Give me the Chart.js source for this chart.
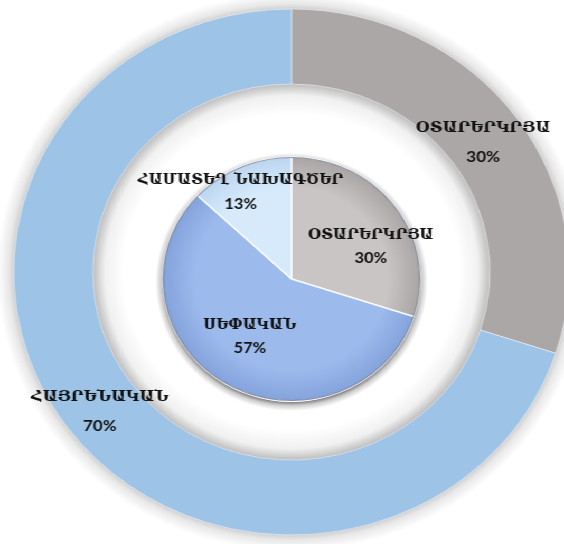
<!DOCTYPE html>
<html>
<head>
<meta charset="utf-8">
<script src="https://cdn.jsdelivr.net/npm/chart.js@4"></script>
<style>
  html, body { margin: 0; padding: 0; background: #fff; }
  #wrap { position: relative; width: 534px; height: 544px; transform: scaleX(1.0562); transform-origin: 0 0; }
  #wrap canvas { position: absolute; left: 0; top: 0; width: 534px; height: 544px; }
</style>
</head>
<body>
<div id="wrap">
  <canvas id="ring" width="534" height="544" style="width:534px;height:544px"></canvas>
  <canvas id="pie" width="534" height="544" style="width:534px;height:544px"></canvas>
</div>
<script>
// DATOS

// anillo exterior
const ringLabels = ['ՕՏԱՐԵՐԿՐՅԱ', 'ՀԱՅՐԵՆԱԿԱՆ'];
const ringValues = [30, 70];

// pastel interior
const pieLabels = ['ՕՏԱՐԵՐԿՐՅԱ', 'ՍԵՓԱԿԱՆ', 'ՀԱՄԱՏԵՂ ՆԱԽԱԳԾԵՐ'];
const pieValues = [30, 57, 13];


// ESTILOS

const ringColors = ['#aba7a7', '#9dc3e6'];
const pieColors = [
    ['#c9c5c5', '#a9a5a5'],
    ['#9cbaec', '#84a3dc'],
    ['#d6eafc', '#bcd6f0']
];


// etiquetas: radio relativo + pequeño ajuste
const labelPlugin = {
    id: 'etiquetas',
    afterDatasetsDraw(chart, args, opts) {
        const ctx = chart.ctx;
        const meta = chart.getDatasetMeta(0);
        const values = chart.data.datasets[0].data;
        const total = values.reduce((a, b) => a + b, 0);
        ctx.save();
        ctx.textAlign = 'center';
        ctx.textBaseline = 'middle';
        ctx.fillStyle = '#111';
        meta.data.forEach((arc, i) => {
            const p = arc.getProps(['x', 'y', 'startAngle', 'endAngle', 'innerRadius', 'outerRadius'], true);
            const mid = (p.startAngle + p.endAngle) / 2;
            const r = p.innerRadius + (p.outerRadius - p.innerRadius) * opts.pos[i];
            const cx = p.x + Math.cos(mid) * r + opts.nudge[i][0];
            const cy = p.y + Math.sin(mid) * r + opts.nudge[i][1];
            ctx.font = `bold ${opts.nameSize}px "DejaVu Serif"`;
            ctx.fillText(chart.data.labels[i], cx, cy - opts.gap / 2);
            ctx.font = `bold ${opts.pctSize}px Lato, "DejaVu Sans"`;
            ctx.fillText(Math.round(values[i] / total * 100) + '%', cx, cy + opts.gap / 2);
        });
        ctx.restore();
    }
};

// sombras con degradados radiales (antes de los arcos) y borde exterior
const shadowPlugin = {
    id: 'sombra',
    beforeDatasetsDraw(chart, args, opts) {
        const arc = chart.getDatasetMeta(0).data[0];
        if (!arc) return;
        const p = arc.getProps(['x', 'y', 'innerRadius', 'outerRadius'], true);
        const ctx = chart.ctx;
        ctx.save();
        // halo exterior (solo el anillo de fuera)
        const R = p.outerRadius;
        const cy = p.y + opts.dy;
        let g = ctx.createRadialGradient(p.x, cy, R - 2, p.x, cy, R + opts.out);
        g.addColorStop(0, opts.outColor);
        g.addColorStop(0.4, opts.midColor);
        g.addColorStop(1, 'rgba(0,0,0,0)');
        ctx.fillStyle = g;
        ctx.beginPath();
        ctx.arc(p.x, cy, R + opts.out, 0, Math.PI * 2);
        ctx.arc(p.x, cy, R - 2, 0, Math.PI * 2, true);
        ctx.fill('evenodd');
        // sombra interior del hueco
        if (p.innerRadius > 0) {
            const r = p.innerRadius;
            g = ctx.createRadialGradient(p.x, p.y, r - opts.inn, p.x, p.y, r + 1);
            g.addColorStop(0, 'rgba(0,0,0,0)');
            g.addColorStop(0.6, 'rgba(0,0,0,0.06)');
            g.addColorStop(1, opts.innColor);
            ctx.fillStyle = g;
            ctx.beginPath();
            ctx.arc(p.x, p.y, r + 1, 0, Math.PI * 2);
            ctx.arc(p.x, p.y, r - opts.inn, 0, Math.PI * 2, true);
            ctx.fill('evenodd');
        }
        ctx.restore();
    },
    afterDatasetsDraw(chart, args, opts) {
        if (!opts.rim) return;
        const arc = chart.getDatasetMeta(0).data[0];
        const p = arc.getProps(['x', 'y', 'outerRadius'], true);
        const ctx = chart.ctx;
        ctx.save();
        ctx.strokeStyle = opts.rim;
        ctx.lineWidth = 1.2;
        ctx.beginPath();
        ctx.arc(p.x, p.y, p.outerRadius - 0.5, 0, Math.PI * 2);
        ctx.stroke();
        ctx.restore();
    }
};

const grad = (c) => {
    const pair = pieColors[c.dataIndex];
    const a = c.chart.chartArea;
    if (!a) return pair[0];
    const cx = (a.left + a.right) / 2, cy = (a.top + a.bottom) / 2;
    const g = c.chart.ctx.createRadialGradient(cx, cy, 0, cx, cy, 122);
    g.addColorStop(0, pair[0]);
    g.addColorStop(0.75, pair[0]);
    g.addColorStop(1, pair[1]);
    return g;
};


// GRAFICA ANILLO

const ringChart = new Chart(document.getElementById('ring'), {
    type: 'doughnut',
    data: {
        labels: ringLabels,
        datasets: [{
            data: ringValues,
            backgroundColor: ringColors,
            borderColor: 'rgba(255,255,255,0.45)',
            borderWidth: 1,
            hoverOffset: 0
        }]
    },
    options: {
        responsive: false,
        animation: false,
        radius: 263,
        cutout: '71.5%',
        layout: { padding: { left: 18 } },
        events: [],
        plugins: {
            legend: { display: false },
            tooltip: { enabled: false },
            sombra: { outColor: 'rgba(0,0,0,0.22)', midColor: 'rgba(0,0,0,0.09)', out: 16, dy: 0, innColor: 'rgba(0,0,0,0.28)', inn: 30, rim: null },
            etiquetas: { pos: [0.5, 0.5], nudge: [[-1, 3], [1, 7]], gap: 28, nameSize: 15, pctSize: 16 }
        }
    },
    plugins: [shadowPlugin, labelPlugin]
});


// GRAFICA PASTEL

const pieChart = new Chart(document.getElementById('pie'), {
    type: 'pie',
    data: {
        labels: pieLabels,
        datasets: [{
            data: pieValues,
            backgroundColor: grad,
            borderColor: 'rgba(255,255,255,0.85)',
            borderWidth: 1.5,
            hoverOffset: 0
        }]
    },
    options: {
        responsive: false,
        animation: false,
        radius: 122,
        layout: { padding: { left: 18, top: 14 } },
        events: [],
        plugins: {
            legend: { display: false },
            tooltip: { enabled: false },
            sombra: { outColor: 'rgba(0,0,0,0.5)', midColor: 'rgba(0,0,0,0.2)', out: 7, dy: 3, innColor: 'rgba(0,0,0,0)', inn: 0, rim: 'rgba(70,80,110,0.55)' },
            etiquetas: { pos: [0.65, 0.57, 0.81], nudge: [[11, 14], [-4, -2], [-9, 4]], gap: 23, nameSize: 14, pctSize: 15.5 }
        }
    },
    plugins: [shadowPlugin, labelPlugin]
});
</script>
</body>
</html>
